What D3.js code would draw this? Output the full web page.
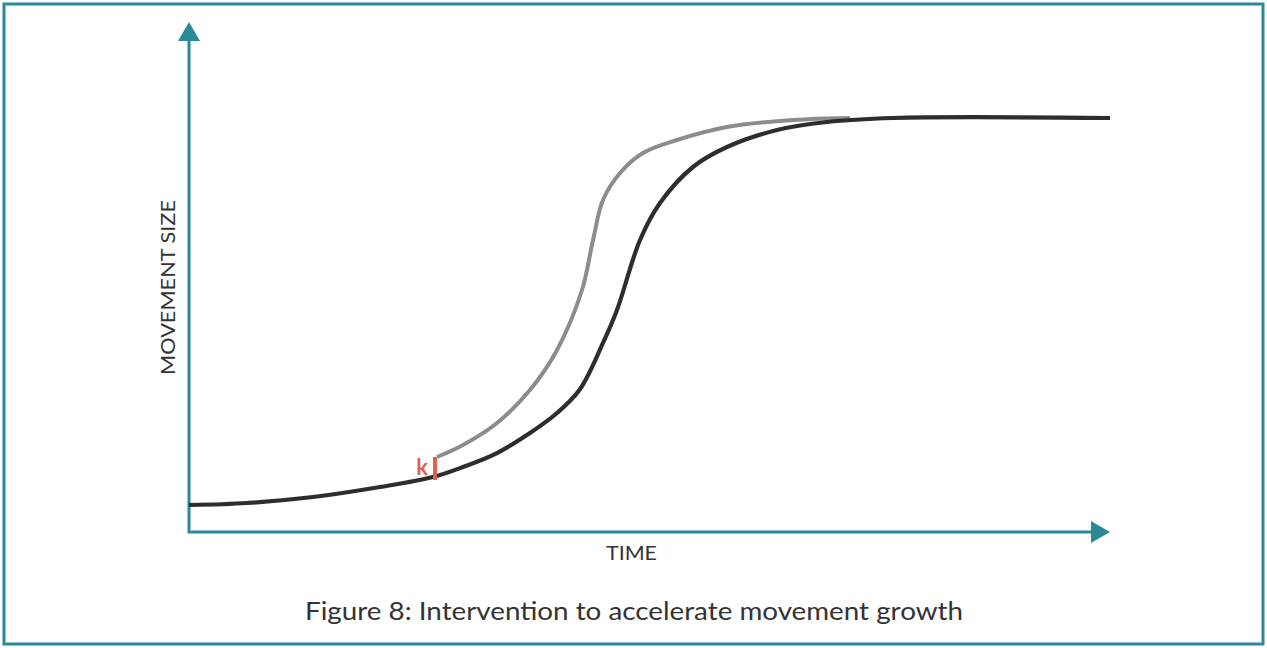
<!DOCTYPE html>
<html><head><meta charset="utf-8">
<script src="https://cdn.jsdelivr.net/npm/d3@7"></script>
<style>html,body{margin:0;padding:0;background:#fff;}svg{display:block;}</style>
</head><body>
<svg id="c" width="1267" height="648"></svg>
<script>
// Data (time and size in arbitrary 0-100 units)
const baseTime = [0, 6.3, 13.46, 20.74, 26.49, 29.75, 33.44, 37.02, 39.96, 42.45, 44.95, 46.47, 48.97, 51.14, 54.72, 58.41, 63.84, 69.27, 76.44, 100];
const baseSize = [5.29, 5.69, 6.86, 8.82, 10.78, 12.75, 15.49, 19.41, 23.33, 28.0, 37.06, 43.53, 57.25, 64.51, 71.57, 75.49, 78.82, 80.39, 81.18, 81.18];
const accelTime = [26.93, 29.75, 33.44, 37.02, 39.96, 42.67, 43.87, 44.95, 46.8, 49.29, 52.99, 58.41, 65.58, 71.77];
const accelSize = [14.71, 17.06, 21.37, 27.84, 35.69, 47.45, 57.25, 65.1, 70.39, 74.31, 76.86, 79.41, 80.78, 81.18];
const kTime = [26.71];
const kSize = [10.2, 14.71];
const xLabel = "TIME";
const yLabel = "MOVEMENT SIZE";
const caption = "Figure 8: Intervention to accelerate movement growth";

const teal = "#2a8a97";
const svg = d3.select("#c");
const x = d3.scaleLinear().domain([0, 100]).range([189, 1110]);
const y = d3.scaleLinear().domain([0, 100]).range([532, 22]);

// frame
svg.append("rect").attr("x", 4).attr("y", 4).attr("width", 1259).attr("height", 640)
  .attr("fill", "none").attr("stroke", teal).attr("stroke-width", 3);

// axes
svg.append("line").attr("x1", x(0)).attr("x2", x(0)).attr("y1", y(0) + 1).attr("y2", 40)
  .attr("stroke", teal).attr("stroke-width", 3);
svg.append("line").attr("x1", x(0) - 1).attr("x2", 1092).attr("y1", y(0)).attr("y2", y(0))
  .attr("stroke", teal).attr("stroke-width", 3);
svg.append("path").attr("d", `M${x(0)},${y(100)} L${x(0) + 11},41 L${x(0) - 11},41 Z`).attr("fill", teal);
svg.append("path").attr("d", `M${x(100)},${y(0)} L1091,${y(0) - 11} L1091,${y(0) + 11} Z`).attr("fill", teal);

const line = d3.line().x(d => x(d[0])).y(d => y(d[1])).curve(d3.curveCatmullRom.alpha(0.5));

svg.append("path").datum(d3.zip(accelTime, accelSize)).attr("d", line)
  .attr("fill", "none").attr("stroke", "#8c8c8c").attr("stroke-width", 4);
svg.append("path").datum(d3.zip(baseTime, baseSize)).attr("d", line)
  .attr("fill", "none").attr("stroke", "#2d2d2d").attr("stroke-width", 4.2);

// k marker
svg.append("line").attr("x1", x(kTime[0])).attr("x2", x(kTime[0]))
  .attr("y1", y(kSize[0])).attr("y2", y(kSize[1]))
  .attr("stroke", "#e0604f").attr("stroke-width", 4);
svg.append("text").attr("x", x(kTime[0]) - 7).attr("y", 475).attr("text-anchor", "end")
  .attr("font-family", "Lato, sans-serif").attr("font-weight", 700).attr("font-size", 22)
  .attr("fill", "#e0604f").text("k");

// labels
svg.append("text").attr("x", 606).attr("y", 560)
  .attr("font-family", "Lato, sans-serif").attr("font-size", 20).attr("fill", "#333")
  .attr("textLength", 51).attr("lengthAdjust", "spacingAndGlyphs").text(xLabel);
svg.append("text").attr("transform", "translate(175,375) rotate(-90)")
  .attr("font-family", "Lato, sans-serif").attr("font-size", 20).attr("fill", "#333")
  .attr("textLength", 175).attr("lengthAdjust", "spacingAndGlyphs").text(yLabel);
svg.append("text").attr("x", 305).attr("y", 620)
  .attr("font-family", "Lato, sans-serif").attr("font-size", 25).attr("fill", "#333")
  .attr("textLength", 658).attr("lengthAdjust", "spacingAndGlyphs").text(caption);
</script>
</body></html>
